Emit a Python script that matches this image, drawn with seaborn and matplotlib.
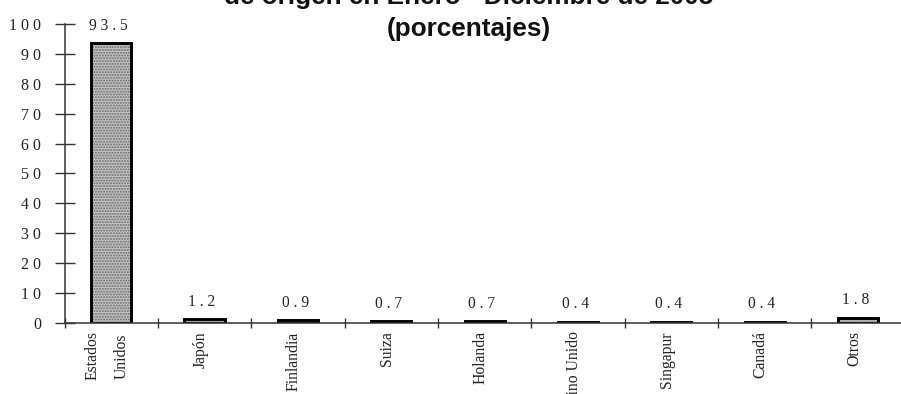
import matplotlib
matplotlib.use("Agg")
import matplotlib.pyplot as plt
import matplotlib.transforms as mtransforms
from matplotlib.ticker import FixedLocator, FuncFormatter
import seaborn as sns
import pandas as pd

# Participation by country of origin, Jan-Dec 2005 (percent)
paises = ["Estados\nUnidos", "Japón", "Finlandia", "Suiza", "Holanda",
          "Reino Unido", "Singapur", "Canadá", "Otros"]
porcentajes = [93.5, 1.2, 0.9, 0.7, 0.7, 0.4, 0.4, 0.4, 1.8]
titulo_l1 = "de origen en Enero - Diciembre de 2005"
titulo_l2 = "(porcentajes)"

df = pd.DataFrame({"pais": paises, "pct": porcentajes})

sns.set_style("white")
plt.rcParams["font.family"] = ["Liberation Serif", "DejaVu Serif"]
plt.rcParams["hatch.linewidth"] = 1.0

fig = plt.figure(figsize=(9.01, 3.94), dpi=100)
ax = fig.add_axes([0.0716, 0.1802, 0.9284, 0.7589])

# stippled fill
sns.barplot(data=df, x="pais", y="pct", ax=ax, color="#c4c4c4",
            width=0.43, edgecolor="#6a6a6a", linewidth=0, hatch="......",
            saturation=1)
# heavy outline
sns.barplot(data=df, x="pais", y="pct", ax=ax, fill=False,
            width=0.43, edgecolor="black", linewidth=2.1)

ax.set_xlim(-0.5, 8.46)
ax.set_ylim(0, 100)
ax.set_xlabel("")
ax.set_ylabel("")

for s in ["top", "right"]:
    ax.spines[s].set_visible(False)
for s in ["left", "bottom"]:
    ax.spines[s].set_color("#333333")
    ax.spines[s].set_linewidth(1.1)

txt_color = "#222222"

# y axis: crossing ticks, spaced digits
ax.yaxis.set_major_locator(FixedLocator(range(0, 101, 10)))
ax.yaxis.set_major_formatter(FuncFormatter(lambda v, p: " ".join(f"{v:g}")))
ax.tick_params(axis="y", direction="inout", length=14, width=1.0,
               color="#333333", pad=10, labelsize=11.5, labelcolor=txt_color,
               left=True)

# x axis: separators between categories, labels rotated
ax.xaxis.set_minor_locator(FixedLocator([i + 0.5 for i in range(-1, 9)]))
ax.tick_params(axis="x", which="minor", direction="inout", length=7,
               width=1.0, color="#333333", bottom=True)
ax.tick_params(axis="x", which="major", length=0, pad=6, labelsize=11.3,
               labelcolor=txt_color)
shift = mtransforms.ScaledTranslation(-4 / 100, 0, fig.dpi_scale_trans)
for lbl in ax.get_xticklabels():
    lbl.set_rotation(90)
    lbl.set_va("top")
    lbl.set_ha("center")
    lbl.set_linespacing(2.1)
    lbl.set_transform(lbl.get_transform() + shift)

# value labels
for i, v in enumerate(porcentajes):
    ax.annotate(" ".join(f"{v}"), xy=(i, v), xytext=(-2, 12.5),
                textcoords="offset points", ha="center", va="center",
                fontsize=11.2, color=txt_color, annotation_clip=False)

tkw = dict(ha="center", va="baseline", fontsize=18.8, fontweight="bold",
           family=["Liberation Sans", "DejaVu Sans"], color="#111111")
fig.text(0.5205, 1 - 4 / 394, titulo_l1, **tkw)
fig.text(0.5205, 1 - 36 / 394, titulo_l2, **tkw)

fig.savefig("out.png", dpi=100)
